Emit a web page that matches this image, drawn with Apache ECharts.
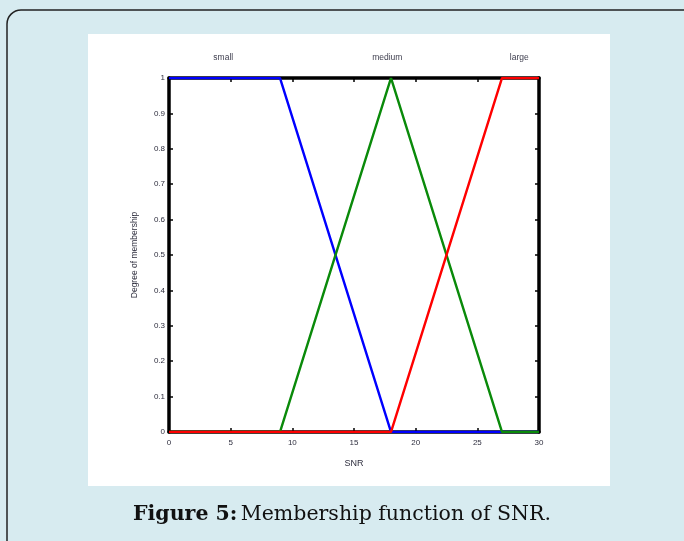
<!DOCTYPE html>
<html>
<head>
<meta charset="utf-8">
<script src="https://cdn.jsdelivr.net/npm/echarts@6/dist/echarts.min.js"></script>
<style>
  html, body { margin: 0; padding: 0; background: #d7ebf0; }
  #chart { width: 684px; height: 541px; }
</style>
</head>
<body>
<div id="chart"></div>
<script>
// SNR breakpoints of the three triangular/trapezoidal membership functions
const snrBreaks = [0, 9, 18, 27, 30];
const smallValues = [1, 1, 0, 0, 0];
const mediumValues = [0, 0, 1, 0, 0];
const largeValues = [0, 0, 0, 1, 1];

// Term names and where their labels sit along the SNR axis
const termNames = ['small', 'medium', 'large'];
const termLabelX = [4.4, 17.7, 28.4];

const xTicks = [0, 5, 10, 15, 20, 25, 30];
const yTicks = [0, 0.1, 0.2, 0.3, 0.4, 0.5, 0.6, 0.7, 0.8, 0.9, 1];

function pairs(values) {
  return snrBreaks.map((x, i) => [x, values[i]]);
}

const chart = echarts.init(document.getElementById('chart'));

const tickFont = { fontFamily: 'Liberation Sans, Arial, sans-serif', fontSize: 8, color: '#2e2e3e' };
const frameLine = { show: true, onZero: false, lineStyle: { color: '#000', width: 3.5 } };
const innerTick = { show: true, inside: true, length: 4, lineStyle: { color: '#000', width: 1.5 } };

chart.setOption({
  backgroundColor: '#d7ebf0',
  animation: false,
  grid: { left: 169, top: 78, right: 145, bottom: 109 },
  xAxis: [
    {
      type: 'value', min: 0, max: 30, interval: 5,
      name: 'SNR', nameLocation: 'middle', nameGap: 27,
      nameTextStyle: Object.assign({}, tickFont, { fontSize: 9 }),
      axisLine: frameLine, axisTick: innerTick,
      axisLabel: Object.assign({ margin: 7 }, tickFont, {
        formatter: v => xTicks.includes(v) ? String(v) : ''
      }),
      splitLine: { show: false }
    },
    {
      type: 'value', position: 'top', min: 0, max: 30, interval: 5,
      axisLine: frameLine, axisTick: innerTick,
      axisLabel: { show: false }, splitLine: { show: false }
    }
  ],
  yAxis: [
    {
      type: 'value', min: 0, max: 1, interval: 0.1,
      name: 'Degree of membership', nameLocation: 'middle', nameGap: 30,
      nameTextStyle: Object.assign({}, tickFont, { fontSize: 8.5 }),
      axisLine: frameLine, axisTick: innerTick,
      axisLabel: Object.assign({ margin: 4 }, tickFont, {
        formatter: v => {
          const t = yTicks.find(y => Math.abs(y - v) < 1e-6);
          return t === undefined ? '' : String(t);
        }
      }),
      splitLine: { show: false }
    },
    {
      type: 'value', position: 'right', min: 0, max: 1, interval: 0.1,
      axisLine: frameLine, axisTick: innerTick,
      axisLabel: { show: false }, splitLine: { show: false }
    }
  ],
  series: [
    { name: termNames[0], type: 'line', data: pairs(smallValues), symbol: 'none',
      lineStyle: { color: '#0000ff', width: 2.5 }, z: 3 },
    { name: termNames[1], type: 'line', data: pairs(mediumValues), symbol: 'none',
      lineStyle: { color: '#0a8a0a', width: 2.5 }, z: 4 },
    { name: termNames[2], type: 'line', data: pairs(largeValues), symbol: 'none',
      lineStyle: { color: '#ff0000', width: 2.5 }, z: 5 }
  ]
});

// Panel, frame, term labels and caption
const elements = [
  { type: 'rect', shape: { x: 7, y: 10, width: 700, height: 545, r: 14 },
    style: { fill: 'rgba(0,0,0,0)', stroke: '#222', lineWidth: 1.5 }, z: -20, silent: true },
  { type: 'rect', shape: { x: 88, y: 34, width: 522, height: 452 },
    style: { fill: '#ffffff' }, z: -10, silent: true },
  { type: 'text', left: 'center', top: 504, z: 10,
    style: {
      rich: {
        b: { fontFamily: 'DejaVu Serif, serif', fontWeight: 'bold', fontSize: 20.5, fill: '#111' },
        r: { fontFamily: 'DejaVu Serif, serif', fontSize: 20.5, fill: '#111' }
      },
      text: '{b|Figure 5:} {r|Membership function of SNR.}'
    } }
];

termNames.forEach((name, i) => {
  const px = chart.convertToPixel({ xAxisIndex: 0 }, termLabelX[i]);
  elements.push({
    type: 'text', x: px, y: 58, z: 10,
    style: {
      text: name, fill: '#3e3e4e', align: 'center', verticalAlign: 'middle',
      fontFamily: 'Liberation Sans, Arial, sans-serif', fontSize: 8.5
    }
  });
});

chart.setOption({ graphic: { elements } });
</script>
</body>
</html>
